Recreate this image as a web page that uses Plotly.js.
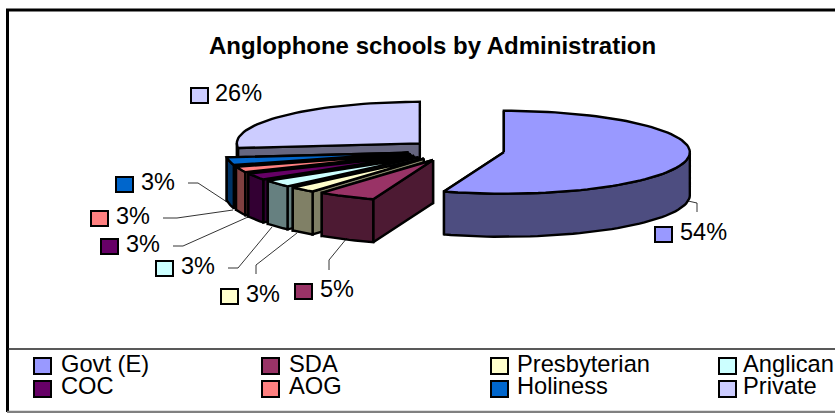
<!DOCTYPE html>
<html><head><meta charset="utf-8">
<script src="https://cdn.plot.ly/plotly-3.0.1.min.js"></script>
<style>html,body{margin:0;padding:0;background:#fff;overflow:hidden}</style>
</head><body><div id="chart" style="width:835px;height:413px"></div>
<script>
const categories = ["Govt (E)","SDA","Presbyterian","Anglican","COC","AOG","Holiness","Private"];
const values = [55.3,5.1,2.3,2.7,2.6,2.2,3.0,26.8];
// percentages as printed on the chart
const percentLabels = ["54%","5%","3%","3%","3%","3%","3%","26%"];
const topColors = ["#9999FF","#993366","#FFFFCC","#CCFFFF","#660066","#FF8080","#0066CC","#CCCCFF"];
const sideColors = ["#4D4D80","#4D1A33","#808066","#668080","#330033","#804040","#003366","#666680"];

// layout of the exploded, tilted pie (pixel-unit axes)
const CX=456, CY=150.5, RX_RIGHT=186, RX_LEFT=183, RY=41.5, DEPTH=43, EXPLODE=48.5;
const FONT="Liberation Sans, Arial, sans-serif";

const total = values.reduce((a,b)=>a+b,0);
const traces=[];
function poly(xs,ys,fill){
  traces.push({type:"scatter",mode:"lines",x:[...xs,xs[0]],y:[...ys,ys[0]],fill:"toself",fillcolor:fill,
    line:{color:"#000",width:2.4,shape:"linear"},hoverinfo:"skip",showlegend:false});
}
const sliceGeom=[]; let acc=0;
values.forEach(v=>{const a0=acc/total*2*Math.PI; acc+=v; const a1=acc/total*2*Math.PI; sliceGeom.push([a0,a1]);});
function drawSlice(i){
  const [a0,a1]=sliceGeom[i], m=(a0+a1)/2;
  const ax=CX+EXPLODE*Math.sin(m), ay=CY-EXPLODE*Math.cos(m)*RY/187;
  const px=t=>ax+(Math.sin(t)<0?RX_LEFT:RX_RIGHT)*Math.sin(t), py=t=>ay-RY*Math.cos(t);
  poly([ax,px(a1),px(a1),ax],[ay,py(a1),py(a1)+DEPTH,ay+DEPTH],sideColors[i]);
  poly([ax,px(a0),px(a0),ax],[ay,py(a0),py(a0)+DEPTH,ay+DEPTH],sideColors[i]);
  const lo=Math.max(a0,Math.PI/2), hi=Math.min(a1,1.5*Math.PI);
  if(hi>lo){
    const n=Math.max(3,Math.ceil((hi-lo)/0.04)), xs=[],ys=[],xb=[],yb=[];
    for(let k=0;k<=n;k++){const t=lo+(hi-lo)*k/n; xs.push(px(t));ys.push(py(t));xb.unshift(px(t));yb.unshift(py(t)+DEPTH);}
    poly([...xs,...xb],[...ys,...yb],sideColors[i]);
  }
  const n=Math.max(3,Math.ceil((a1-a0)/0.04)), xs=[ax],ys=[ay];
  for(let k=0;k<=n;k++){const t=a0+(a1-a0)*k/n; xs.push(px(t));ys.push(py(t));}
  poly(xs,ys,topColors[i]);
}
[7,6,5,4,3,2,1,0].forEach(drawSlice);

const shapes=[], annotations=[];
function key(x,y,w,h,color){
  shapes.push({type:"rect",xref:"x",yref:"y",x0:x,x1:x+w,y0:y,y1:y+h,fillcolor:color,line:{color:"#000",width:2},layer:"above"});
}
function txt(x,y,text,size,extra){
  annotations.push(Object.assign({xref:"x",yref:"y",x,y,text,showarrow:false,xanchor:"left",yanchor:"middle",
    font:{family:FONT,size,color:"#000"},borderpad:0,borderwidth:0},extra||{}));
}
// frame
shapes.push({type:"path",xref:"x",yref:"y",path:"M7.5 412 L7.5 10 L835 10",line:{color:"#000",width:3}});
shapes.push({type:"line",xref:"x",yref:"y",x0:7,x1:835,y0:412,y1:412,line:{color:"#808080",width:2.5}});
shapes.push({type:"line",xref:"x",yref:"y",x0:8,x1:835,y0:349,y1:349,line:{color:"#222",width:1.3}});
// title
txt(432.5,45,"<b>Anglophone schools by Administration</b>",24,{xanchor:"center"});

const labelLayout=[
 {k:[655,227],t:[680,232],l:[[688,201],[697,203],[697,212]]},
 {k:[295,284],t:[320,289],l:[[347,238],[329,260],[329,270]]},
 {k:[221,289],t:[246,294],l:[[297,233],[256,265],[256,274]]},
 {k:[156,261],t:[181,266],l:[[272,227],[238,268],[228,268]]},
 {k:[101,239],t:[126,244],l:[[248,217],[183,246],[173,246]]},
 {k:[91,211],t:[116,216],l:[[233,210],[177,218],[163,218]]},
 {k:[116,177],t:[141,182],l:[[227,202],[198,183],[188,183]]},
 {k:[191,88],t:[215,93],l:null},
];
percentLabels.forEach((s,i)=>{
  const L=labelLayout[i];
  key(L.k[0],L.k[1],17,15,topColors[i]);
  txt(L.t[0],L.t[1],s,23.5);
  if(L.l) shapes.push({type:"path",xref:"x",yref:"y",
    path:L.l.map((p,j)=>(j?"L":"M")+p[0]+" "+p[1]).join(" "),line:{color:"#000",width:0.8}});
});
// legend
const legendCols=[34,262,491,719], legendTextCols=[61,289,517,743], legendKeyRows=[358,381], legendTextRows=[364,386];
categories.forEach((c,i)=>{
  const col=i%4,row=Math.floor(i/4);
  key(legendCols[col],legendKeyRows[row],17,16,topColors[i]);
  txt(legendTextCols[col],legendTextRows[row],c,23.7);
});

Plotly.newPlot("chart",traces,{
  width:835,height:413,margin:{l:0,r:0,t:0,b:0},paper_bgcolor:"#fff",plot_bgcolor:"#fff",
  xaxis:{range:[0,835],visible:false,fixedrange:true},
  yaxis:{range:[413,0],visible:false,fixedrange:true},
  shapes,annotations,showlegend:false
},{displayModeBar:false,staticPlot:true});
</script></body></html>
